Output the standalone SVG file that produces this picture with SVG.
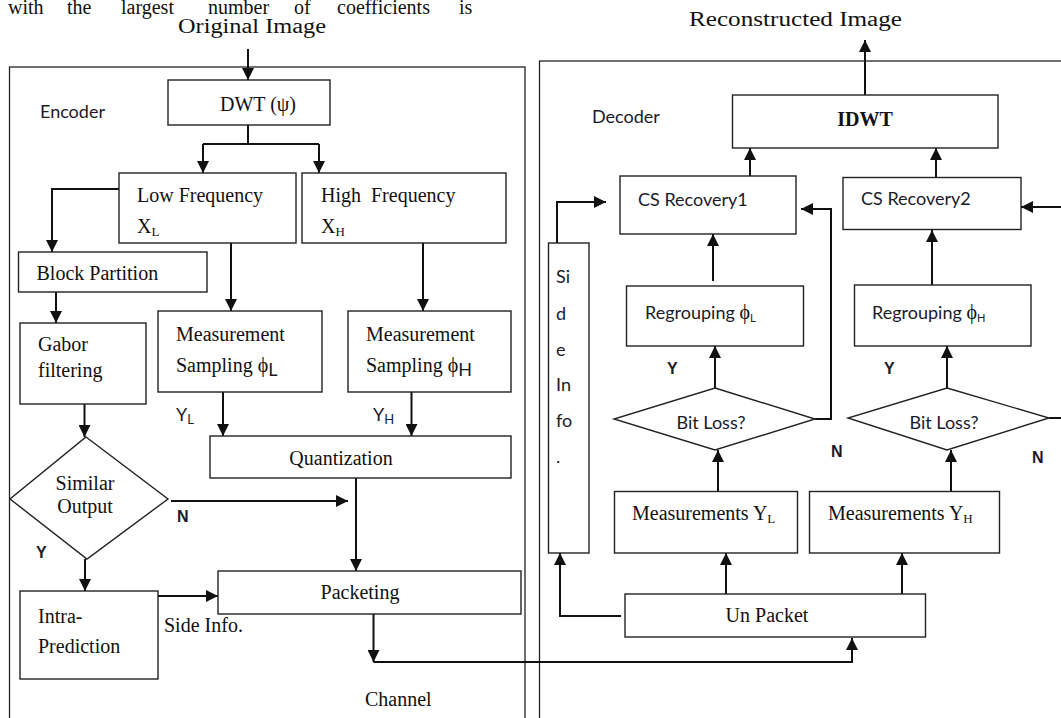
<svg xmlns="http://www.w3.org/2000/svg" width="1061" height="718" viewBox="0 0 1061 718">
<style>
.frame{fill:none;stroke:#222;stroke-width:1.3}
.box{fill:#fff;stroke:#222;stroke-width:1.4}
.ln{fill:none;stroke:#111;stroke-width:2}
.ser{font-family:"Liberation Serif","Times New Roman",serif;fill:#111;font-size:20px}
.san{font-family:Lato,"Open Sans","Liberation Sans",sans-serif;fill:#1a1a2a;font-size:18px}
.lbl{font-family:"Liberation Sans",Arial,sans-serif;font-weight:bold;fill:#1a1a2a;font-size:16px}
.mid{text-anchor:middle}
</style>
<defs>
<marker id="ah" markerWidth="12" markerHeight="12" refX="12" refY="6" orient="auto" markerUnits="userSpaceOnUse">
<path d="M0,0 L12,6 L0,12 z" fill="#111"/>
</marker>
</defs>
<rect width="1061" height="718" fill="#fff"/>

<!-- text line at top -->
<text class="ser" y="14" font-size="14"><tspan x="8">with</tspan><tspan x="67">the</tspan><tspan x="121">largest</tspan><tspan x="208">number</tspan><tspan x="294">of</tspan><tspan x="337">coefficients</tspan><tspan x="459">is</tspan></text>

<text class="ser" x="178" y="33" font-size="21" textLength="148" lengthAdjust="spacingAndGlyphs">Original Image</text>
<text class="ser" x="689" y="26" font-size="21" textLength="213" lengthAdjust="spacingAndGlyphs">Reconstructed Image</text>

<!-- frames -->
<g id="encoder-frame"><rect class="frame" x="9.5" y="67" width="515.5" height="720"/><text class="san" x="40" y="118">Encoder</text></g>
<g id="decoder-frame"><rect class="frame" x="539.5" y="61" width="600" height="720"/><text class="san" x="592" y="123">Decoder</text></g>

<!-- connectors -->
<g id="connectors">
<path class="ln" d="M248,49 V80" marker-end="url(#ah)"/>
<path class="ln" d="M248,125 V144 M203,144 H319"/>
<path class="ln" d="M203,144 V173" marker-end="url(#ah)"/>
<path class="ln" d="M319,144 V173" marker-end="url(#ah)"/>
<path class="ln" d="M119,189 H52 V252" marker-end="url(#ah)"/>
<path class="ln" d="M231,243 V311" marker-end="url(#ah)"/>
<path class="ln" d="M423,243 V311" marker-end="url(#ah)"/>
<path class="ln" d="M56,292 V323" marker-end="url(#ah)"/>
<path class="ln" d="M84.5,404 V437" marker-end="url(#ah)"/>
<path class="ln" d="M171,501 H348" marker-end="url(#ah)"/>
<path class="ln" d="M223,392 V436" marker-end="url(#ah)"/>
<path class="ln" d="M411.5,392 V436" marker-end="url(#ah)"/>
<path class="ln" d="M356,478 V571" marker-end="url(#ah)"/>
<path class="ln" d="M85,559 V591" marker-end="url(#ah)"/>
<path class="ln" d="M158,596 H218" marker-end="url(#ah)"/>
<path class="ln" d="M373.5,614 V662" marker-end="url(#ah)"/>
<path class="ln" d="M373.5,662 H852 V638" marker-end="url(#ah)"/>

<path class="ln" d="M865,95 V40" marker-end="url(#ah)"/>
<path class="ln" d="M750,176 V148" marker-end="url(#ah)"/>
<path class="ln" d="M936,177.5 V148" marker-end="url(#ah)"/>
<path class="ln" d="M557,243 V202 H606" marker-end="url(#ah)"/>
<path class="ln" d="M713,281 V234" marker-end="url(#ah)"/>
<path class="ln" d="M932,285 V230" marker-end="url(#ah)"/>
<path class="ln" d="M715,388 V346" marker-end="url(#ah)"/>
<path class="ln" d="M947,388 V346" marker-end="url(#ah)"/>
<path class="ln" d="M815,419 H831 V209 H801" marker-end="url(#ah)"/>
<path class="ln" d="M1049,418 H1061"/>
<path class="ln" d="M1061,207 H1021" marker-end="url(#ah)"/>
<path class="ln" d="M718,491.5 V450" marker-end="url(#ah)"/>
<path class="ln" d="M951,491.5 V450" marker-end="url(#ah)"/>
<path class="ln" d="M726,594 V553" marker-end="url(#ah)"/>
<path class="ln" d="M902,594 V553" marker-end="url(#ah)"/>
<path class="ln" d="M621,616 H560 V553" marker-end="url(#ah)"/>
</g>

<!-- encoder nodes -->
<g id="dwt"><rect class="box" x="168" y="80" width="162" height="45"/><text class="ser" x="220" y="111" font-size="21">DWT (ψ)</text></g>
<g id="low-freq"><rect class="box" x="119" y="173" width="177" height="70"/><text class="ser" x="137" y="202" font-size="21">Low Frequency</text><text class="ser" x="137" y="233" font-size="21">X<tspan font-size="13" dy="3">L</tspan></text></g>
<g id="high-freq"><rect class="box" x="302" y="173" width="204" height="70"/><text class="ser" x="321" y="202" font-size="21" xml:space="preserve">High  Frequency</text><text class="ser" x="321" y="233" font-size="21">X<tspan font-size="13" dy="3">H</tspan></text></g>
<g id="block-partition"><rect class="box" x="18.5" y="252" width="188.5" height="40"/><text class="ser" x="36.5" y="280">Block Partition</text></g>
<g id="gabor"><rect class="box" x="20" y="323" width="126" height="81"/><text class="ser" x="38" y="351">Gabor</text><text class="ser" x="38" y="377">filtering</text></g>
<g id="meas-l"><rect class="box" x="158" y="311" width="164" height="81"/><text class="ser" x="176" y="341">Measurement</text><text class="ser" x="176" y="372">Sampling ϕ<tspan class="san" font-size="11" dy="4">L</tspan></text></g>
<g id="meas-h"><rect class="box" x="348" y="311" width="163" height="81"/><text class="ser" x="366" y="341">Measurement</text><text class="ser" x="366" y="372">Sampling ϕ<tspan class="san" font-size="11" dy="4">H</tspan></text></g>
<g id="similar"><polygon class="box" points="86,437 168,499 87,559 10,499"/><text class="ser mid" x="85" y="490" font-size="18">Similar</text><text class="ser mid" x="85" y="513" font-size="18">Output</text></g>
<g id="quantization"><rect class="box" x="210" y="436" width="301" height="42"/><text class="ser mid" x="341" y="465">Quantization</text></g>
<g id="packeting"><rect class="box" x="218" y="571" width="303" height="43"/><text class="ser mid" x="360" y="599">Packeting</text></g>
<g id="intra"><rect class="box" x="20" y="591" width="138" height="88"/><text class="ser" x="38" y="623" font-size="22">Intra-</text><text class="ser" x="38" y="653" font-size="22">Prediction</text></g>
<g id="enc-labels">
<text class="san" x="176" y="421">Y<tspan font-size="13" dy="3">L</tspan></text>
<text class="san" x="373" y="421">Y<tspan font-size="13" dy="3">H</tspan></text>
<text class="lbl" x="177" y="522">N</text>
<text class="lbl" x="36" y="558">Y</text>
<text class="ser" x="164" y="632" font-size="17">Side Info.</text>
<text class="ser" x="365" y="706" font-size="22">Channel</text>
</g>

<!-- decoder nodes -->
<g id="idwt"><rect class="box" x="732.5" y="95" width="265.5" height="53"/><text class="ser mid" x="865" y="126" font-size="22" font-weight="bold">IDWT</text></g>
<g id="cs1"><rect class="box" x="620" y="176" width="176" height="58"/><text class="san" x="638" y="206">CS Recovery1</text></g>
<g id="cs2"><rect class="box" x="843" y="177.5" width="178" height="52"/><text class="san" x="861" y="205">CS Recovery2</text></g>
<g id="side-info"><rect class="box" x="548.5" y="243" width="40.5" height="310"/>
<text class="san" x="556" y="283" font-size="20">Si</text><text class="san" x="556" y="320" font-size="20">d</text><text class="san" x="556" y="356" font-size="20">e</text><text class="san" x="556" y="391" font-size="20">In</text><text class="san" x="556" y="427" font-size="20">fo</text><text class="san" x="556" y="463" font-size="20">.</text></g>
<g id="reg-l"><rect class="box" x="626.5" y="286" width="177" height="60"/><text class="san" x="645" y="319">Regrouping <tspan class="ser" font-size="20">ϕ</tspan><tspan font-size="11" dy="3">L</tspan></text></g>
<g id="reg-h"><rect class="box" x="854.5" y="285" width="176.5" height="61"/><text class="san" x="872" y="319">Regrouping <tspan class="ser" font-size="20">ϕ</tspan><tspan font-size="11" dy="3">H</tspan></text></g>
<g id="bitloss-l"><polygon class="box" points="715,388 815,419 715,450 614,419"/><text class="san mid" x="711" y="429">Bit Loss?</text></g>
<g id="bitloss-h"><polygon class="box" points="947,388 1049,418 947,450 848,418"/><text class="san mid" x="944" y="429">Bit Loss?</text></g>
<g id="meas-yl"><rect class="box" x="614.5" y="491.5" width="183" height="61.5"/><text class="ser" x="632" y="520">Measurements Y<tspan font-size="13" dy="3">L</tspan></text></g>
<g id="meas-yh"><rect class="box" x="809.5" y="491.5" width="190" height="61.5"/><text class="ser" x="828" y="520">Measurements Y<tspan font-size="13" dy="3">H</tspan></text></g>
<g id="unpacket"><rect class="box" x="625" y="594" width="300.5" height="43"/><text class="ser mid" x="767" y="622">Un Packet</text></g>
<g id="dec-labels">
<text class="lbl" x="667" y="374">Y</text>
<text class="lbl" x="884" y="374">Y</text>
<text class="lbl" x="831" y="457">N</text>
<text class="lbl" x="1032" y="463">N</text>
</g>
</svg>
